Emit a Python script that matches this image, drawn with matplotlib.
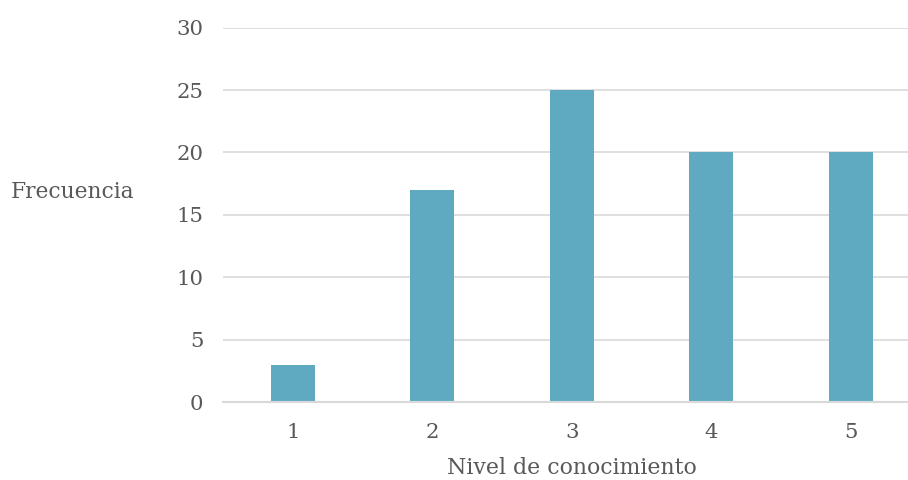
import matplotlib
matplotlib.use("Agg")
import matplotlib.pyplot as plt

categories = ["1", "2", "3", "4", "5"]
frequencies = [3, 17, 25, 20, 20]
y_ticks = [0, 5, 10, 15, 20, 25, 30]

text_color = "#595959"
bar_color = "#60AAC1"
grid_color = "#D9D9D9"

plt.rcParams["font.family"] = ["DejaVu Serif"]

fig = plt.figure(figsize=(9.08, 4.8), dpi=100)
ax = fig.add_axes([223 / 908, 78 / 480, 697.8 / 908, 374.4 / 480])

x = range(len(categories))
ax.bar(x, frequencies, width=0.315, color=bar_color, zorder=3)

ax.set_xlim(-0.5, len(categories) - 0.5)
ax.set_ylim(0, 30)
ax.set_yticks(y_ticks)
ax.set_xticks(list(x))
ax.set_xticklabels(categories)

ax.yaxis.grid(True, color=grid_color, linewidth=1.2, zorder=0)
ax.set_axisbelow(True)
for side in ["top", "right", "left"]:
    ax.spines[side].set_visible(False)
ax.spines["bottom"].set_color(grid_color)
ax.spines["bottom"].set_linewidth(1.5)
ax.spines["bottom"].set_zorder(4)

ax.tick_params(axis="both", length=0, labelsize=15.3, labelcolor=text_color)
ax.tick_params(axis="y", pad=14)
ax.tick_params(axis="x", pad=15)

fig.text(73 / 908, 1 - 192 / 480, "Frecuencia", ha="center", va="center",
         fontsize=15.7, color=text_color)
fig.text(572 / 908, 1 - 468 / 480, "Nivel de conocimiento", ha="center",
         va="center", fontsize=15.8, color=text_color)

fig.savefig("out.png", dpi=100)
